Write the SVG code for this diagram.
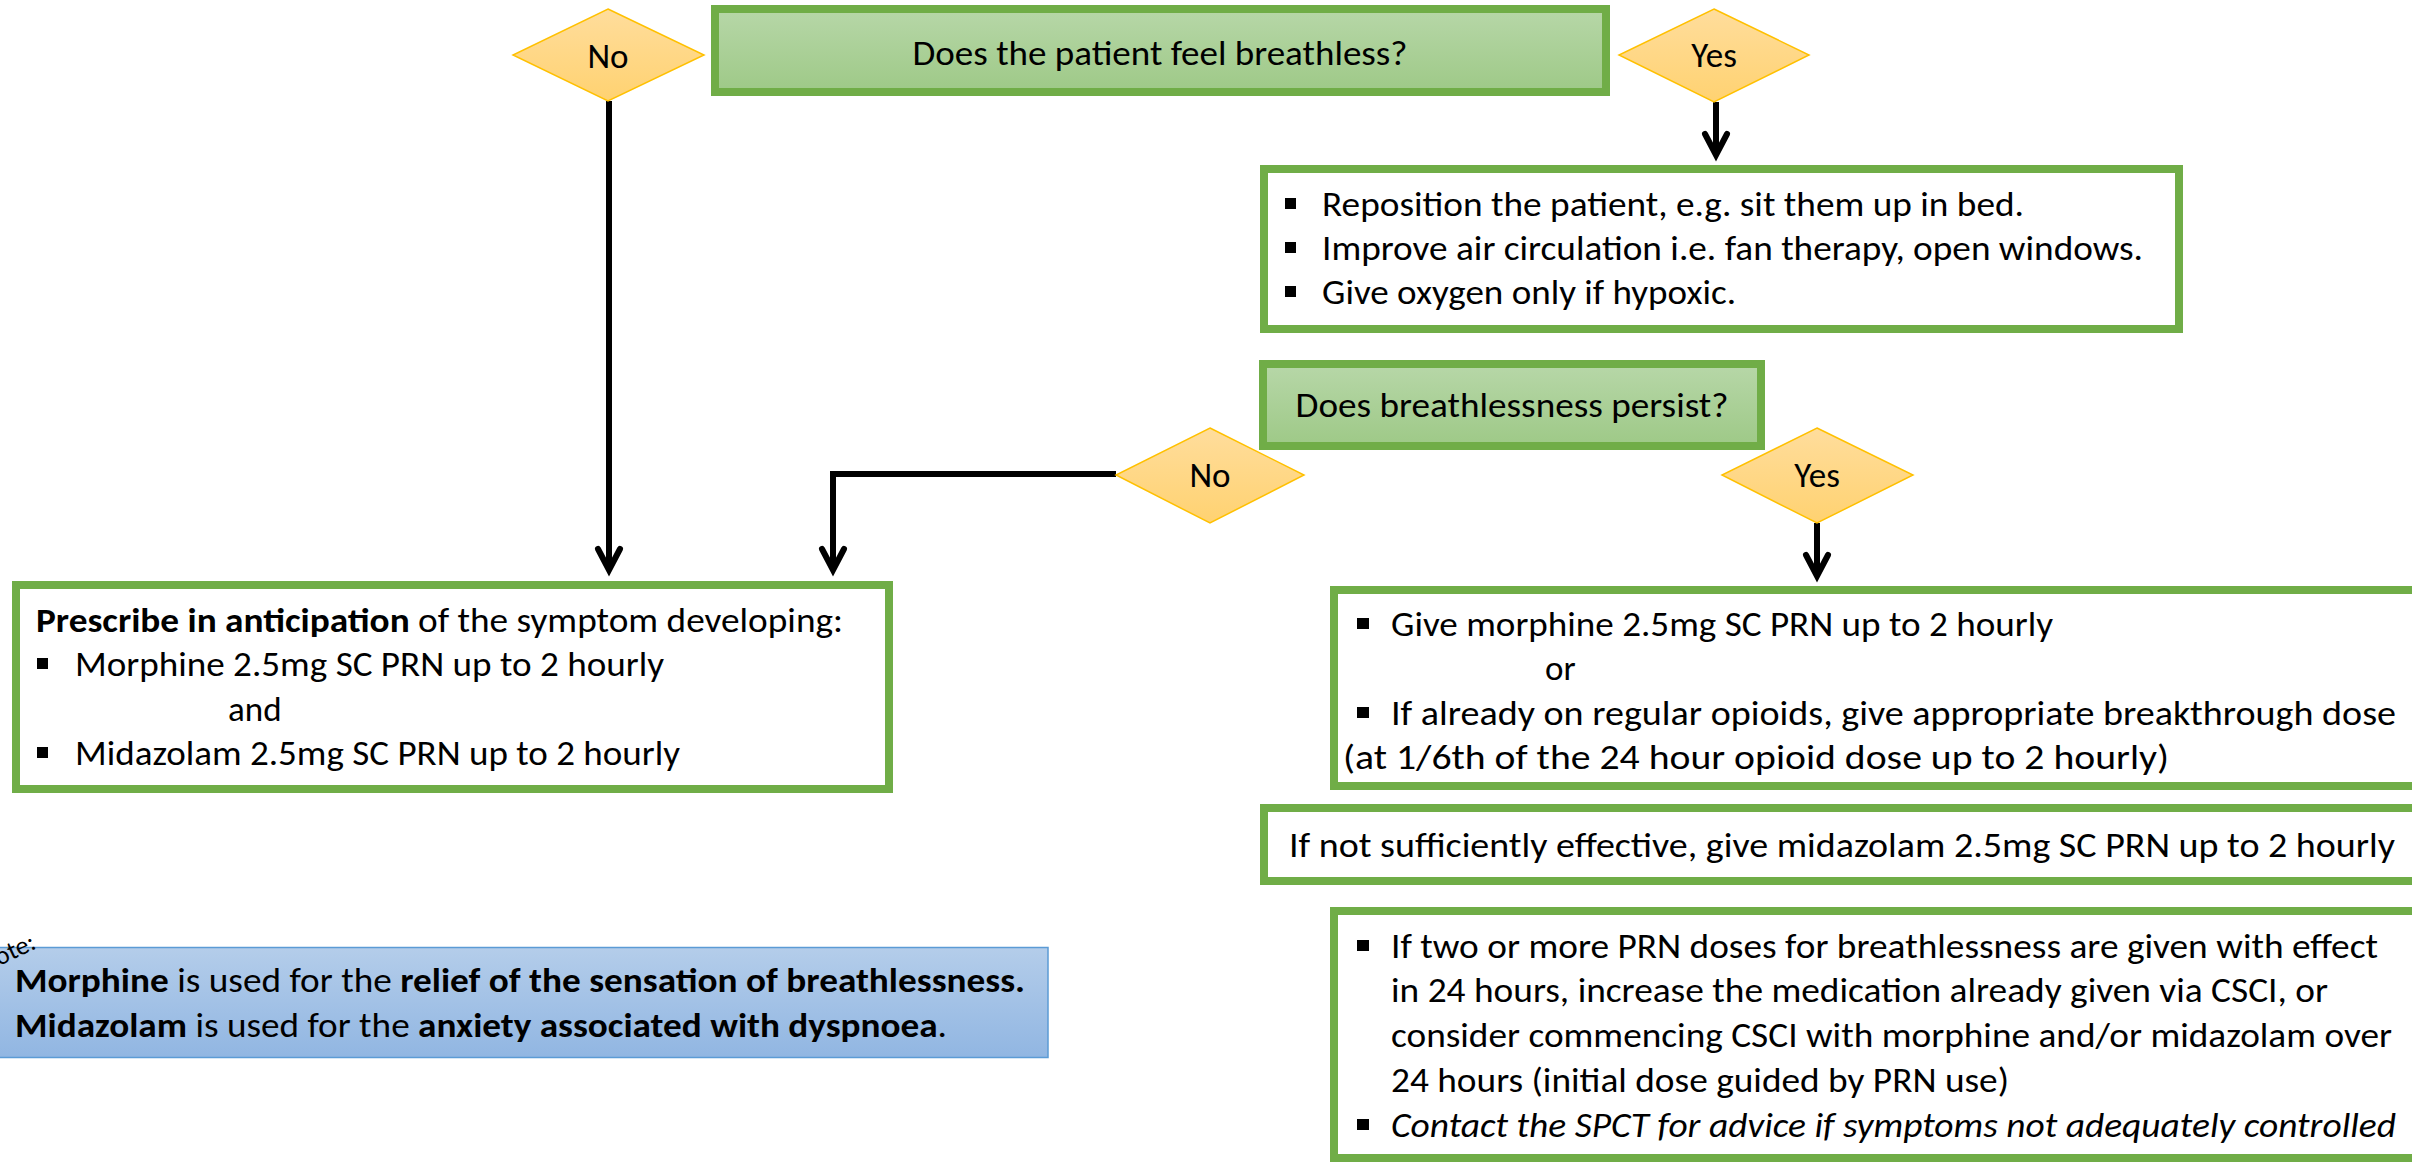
<svg xmlns="http://www.w3.org/2000/svg" width="2412" height="1162" viewBox="0 0 2412 1162">
<style>
.t{font-family:Carlito,Calibri,Lato,"Liberation Sans",sans-serif;font-size:35px;fill:#000}
.b{font-weight:bold}
.i{font-style:italic}
.box{fill:#fff;stroke:#70ad47;stroke-width:8}
.q{fill:url(#gGreen);stroke:#70ad47;stroke-width:8}
.dia{fill:url(#gOrange);stroke:#ffc000;stroke-width:1.5}
.bul{fill:#000}
.mid{text-anchor:middle}
</style>
<defs>
<linearGradient id="gGreen" x1="0" y1="0" x2="0" y2="1"><stop offset="0" stop-color="#b7d7a8"/><stop offset="1" stop-color="#9ec987"/></linearGradient>
<linearGradient id="gOrange" x1="0" y1="0" x2="0" y2="1"><stop offset="0" stop-color="#ffdd9c"/><stop offset="1" stop-color="#ffd271"/></linearGradient>
<linearGradient id="gBlue" x1="0" y1="0" x2="0" y2="1"><stop offset="0" stop-color="#b4cdea"/><stop offset="1" stop-color="#91b6e2"/></linearGradient>
<marker id="arrow" markerUnits="userSpaceOnUse" viewBox="-30 -18 44 36" markerWidth="44" markerHeight="36" refX="0" refY="0" orient="auto" overflow="visible">
<path d="M-20,-11 L1,0 L-20,11" fill="none" stroke="#000" stroke-width="6" stroke-linecap="round" stroke-linejoin="miter"/>
</marker>
</defs>
<rect width="2412" height="1162" fill="#fff"/>

<g id="connectors" fill="none" stroke="#000" stroke-width="6">
<path d="M609,101 V569" marker-end="url(#arrow)"/>
<path d="M1716,102 V154" marker-end="url(#arrow)"/>
<path d="M1116,474 H833 V569" marker-end="url(#arrow)"/>
<path d="M1817,523 V575" marker-end="url(#arrow)"/>
</g>

<g id="q1">
<rect class="q" x="715" y="9" width="891" height="83"/>
<text class="t mid" x="1160" y="65" textLength="495" lengthAdjust="spacingAndGlyphs">Does the patient feel breathless?</text>
</g>
<g id="d-no1">
<polygon class="dia" points="608,9 704,55 608,101 513,55"/>
<text class="t mid" x="608" y="68">No</text>
</g>
<g id="d-yes1">
<polygon class="dia" points="1714,9 1809,55 1714,102 1619,55"/>
<text class="t mid" x="1714" y="67">Yes</text>
</g>

<g id="reposition">
<rect class="box" x="1264" y="169" width="915" height="160"/>
<rect class="bul" x="1285" y="198" width="11" height="11"/>
<rect class="bul" x="1285" y="242" width="11" height="11"/>
<rect class="bul" x="1285" y="286" width="11" height="11"/>
<text class="t" x="1322" y="216" textLength="702" lengthAdjust="spacingAndGlyphs">Reposition the patient, e.g. sit them up in bed.</text>
<text class="t" x="1322" y="260" textLength="821" lengthAdjust="spacingAndGlyphs">Improve air circulation i.e. fan therapy, open windows.</text>
<text class="t" x="1322" y="304" textLength="414" lengthAdjust="spacingAndGlyphs">Give oxygen only if hypoxic.</text>
</g>

<g id="q2">
<rect class="q" x="1263" y="364" width="498" height="82"/>
<text class="t mid" x="1512" y="417" textLength="433" lengthAdjust="spacingAndGlyphs">Does breathlessness persist?</text>
</g>
<g id="d-no2">
<polygon class="dia" points="1210,428 1304,475 1210,523 1116,475"/>
<text class="t mid" x="1210" y="487">No</text>
</g>
<g id="d-yes2">
<polygon class="dia" points="1817,428 1913,475 1817,523 1722,475"/>
<text class="t mid" x="1817" y="487">Yes</text>
</g>

<g id="prescribe">
<rect class="box" x="16" y="585" width="873" height="204"/>
<text class="t" x="36" y="632" textLength="807" lengthAdjust="spacingAndGlyphs"><tspan class="b">Prescribe in anticipation</tspan> of the symptom developing:</text>
<rect class="bul" x="37" y="658" width="11" height="11"/>
<text class="t" x="75" y="676" textLength="589" lengthAdjust="spacingAndGlyphs">Morphine 2.5mg SC PRN up to 2 hourly</text>
<text class="t" x="228" y="721">and</text>
<rect class="bul" x="37" y="747" width="11" height="11"/>
<text class="t" x="75" y="765" textLength="605" lengthAdjust="spacingAndGlyphs">Midazolam 2.5mg SC PRN up to 2 hourly</text>
</g>

<g id="give-morphine">
<rect class="box" x="1334" y="590" width="1200" height="196"/>
<rect class="bul" x="1357" y="618" width="12" height="11"/>
<text class="t" x="1391" y="636" textLength="662" lengthAdjust="spacingAndGlyphs">Give morphine 2.5mg SC PRN up to 2 hourly</text>
<text class="t" x="1545" y="680">or</text>
<rect class="bul" x="1357" y="707" width="12" height="11"/>
<text class="t" x="1391" y="725" textLength="1005" lengthAdjust="spacingAndGlyphs">If already on regular opioids, give appropriate breakthrough dose</text>
<text class="t" x="1343" y="769" textLength="826" lengthAdjust="spacingAndGlyphs">(at 1/6th of the 24 hour opioid dose up to 2 hourly)</text>
</g>

<g id="midazolam">
<rect class="box" x="1264" y="808" width="1200" height="73"/>
<text class="t" x="1289" y="857" textLength="1106" lengthAdjust="spacingAndGlyphs">If not sufficiently effective, give midazolam 2.5mg SC PRN up to 2 hourly</text>
</g>

<g id="csci">
<rect class="box" x="1334" y="911" width="1200" height="247"/>
<rect class="bul" x="1357" y="940" width="12" height="11"/>
<text class="t" x="1391" y="958" textLength="987" lengthAdjust="spacingAndGlyphs">If two or more PRN doses for breathlessness are given with effect</text>
<text class="t" x="1391" y="1002" textLength="937" lengthAdjust="spacingAndGlyphs">in 24 hours, increase the medication already given via CSCI, or</text>
<text class="t" x="1391" y="1047" textLength="1001" lengthAdjust="spacingAndGlyphs">consider commencing CSCI with morphine and/or midazolam over</text>
<text class="t" x="1391" y="1092" textLength="618" lengthAdjust="spacingAndGlyphs">24 hours (initial dose guided by PRN use)</text>
<rect class="bul" x="1357" y="1119" width="12" height="11"/>
<text class="t i" x="1391" y="1137" textLength="1005" lengthAdjust="spacingAndGlyphs">Contact the SPCT for advice if symptoms not adequately controlled</text>
</g>

<g id="note">
<rect x="-4" y="947.5" width="1052" height="110" fill="url(#gBlue)" stroke="#5b9bd5" stroke-width="1.5"/>
<text class="t" x="15" y="992" textLength="1010" lengthAdjust="spacingAndGlyphs"><tspan class="b">Morphine</tspan> is used for the <tspan class="b">relief of the sensation of breathlessness.</tspan></text>
<text class="t" x="15" y="1037" textLength="932" lengthAdjust="spacingAndGlyphs"><tspan class="b">Midazolam</tspan> is used for the <tspan class="b">anxiety associated with dyspnoea</tspan>.</text>
<text class="t" x="-16" y="973" style="font-size:26px" transform="rotate(-25 -16 973)">Note:</text>
</g>
</svg>
